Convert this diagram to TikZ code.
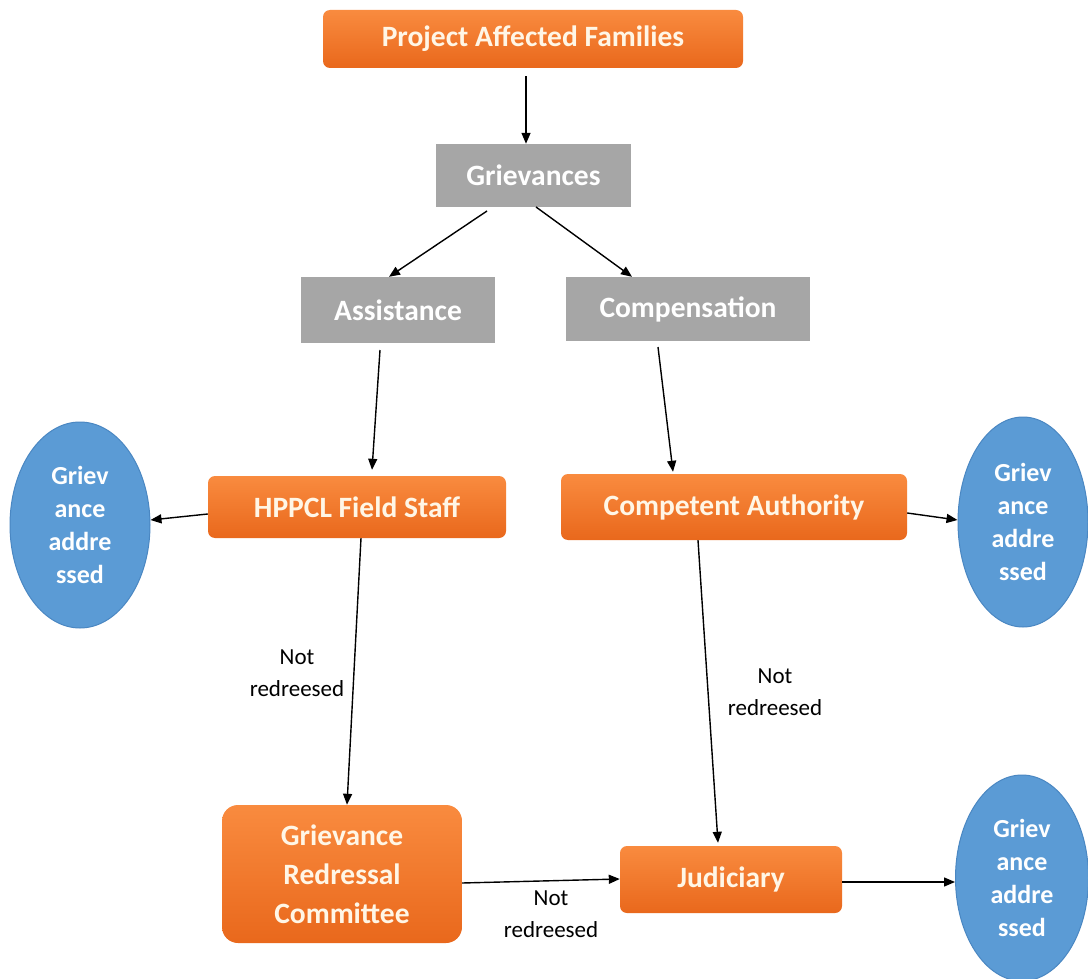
\documentclass[tikz,border=0pt]{standalone}
\usepackage{fontspec}
\setmainfont{Carlito}
\usetikzlibrary{arrows.meta,shapes.geometric}
\definecolor{orTop}{HTML}{F98B3F}
\definecolor{orBot}{HTML}{E9681C}
\definecolor{grayBox}{HTML}{A6A6A6}
\definecolor{blueEl}{HTML}{5B9BD5}
\definecolor{blueEd}{HTML}{4A87C2}
\definecolor{cream}{HTML}{FFF6E6}
\tikzset{
  orbox/.style={rectangle, rounded corners=7pt, top color=orTop, bottom color=orBot, draw=none,
    text=cream, font=\fontsize{29.5}{39}\selectfont\bfseries, inner sep=0pt, align=center},
  graybox/.style={rectangle, fill=grayBox, draw=none, text=white,
    font=\fontsize{29.5}{35}\selectfont\bfseries, inner sep=0pt, align=center},
  blueell/.style={ellipse, fill=blueEl, draw=blueEd, line width=1pt, text=white, inner sep=0pt,
    font=\fontsize{26}{33}\selectfont\bfseries, align=center},
  conn/.style={draw=black, line width=1.4pt, -{Triangle[length=11pt,width=9pt]}},
  lbl/.style={font=\fontsize{23}{32}\selectfont, align=center, text=black}
}
\begin{document}
\begin{tikzpicture}[x=1pt,y=-1pt]
\useasboundingbox (0,0) rectangle (1088,979);
\fill[white] (0,0) rectangle (1088,979);
\node[orbox, minimum width=420pt, minimum height=58pt] (paf) at (533,39) {Project Affected Families};
\node[graybox, minimum width=195pt, minimum height=63pt] (griev) at (533.5,175.5) {Grievances};
\node[graybox, minimum width=194pt, minimum height=66pt] (assist) at (398,310) {Assistance};
\node[graybox, minimum width=244pt, minimum height=64pt] (comp) at (688,309) {Compensation};
\node[orbox, minimum width=298pt, minimum height=62pt] (hppcl) at (357,507) {HPPCL Field Staff};
\node[orbox, minimum width=346pt, minimum height=66pt] (ca) at (734,507) {Competent Authority};
\node[blueell, minimum width=140pt, minimum height=206pt] (el1) at (80,525) {Griev\\ance\\addre\\ssed};
\node[blueell, minimum width=130pt, minimum height=210pt] (el2) at (1023,522) {Griev\\ance\\addre\\ssed};
\node[orbox, rounded corners=16pt, minimum width=240pt, minimum height=138pt] (grc) at (342,874) {Grievance\\Redressal\\Committee};
\node[orbox, minimum width=222pt, minimum height=67pt] (jud) at (731,879.5) {Judiciary};
\node[blueell, minimum width=133pt, minimum height=206pt] (el3) at (1022,878) {Griev\\ance\\addre\\ssed};

\draw[conn] ([yshift=-8pt]paf.south -| 526,0) -- (griev.north -| 526,0);
\draw[conn] (487,211) -- (assist.north -| 389,0);
\draw[conn] (536,207) -- (comp.north -| 632,0);
\draw[conn] (380,350) -- ([yshift=6pt]hppcl.north -| 372,0);
\draw[conn] (658,347) -- ([yshift=2pt]ca.north -| 673,0);
\draw[conn] (hppcl.west |- 0,514) -- (el1.east |- 0,520);
\draw[conn] (ca.east |- 0,513) -- (el2.west |- 0,520);
\draw[conn] (hppcl.south -| 361,0) -- (grc.north -| 347,0);
\draw[conn] (ca.south -| 698,0) -- ([yshift=3pt]jud.north -| 718,0);
\draw[conn] (grc.east |- 0,883) -- (jud.west |- 0,879);
\draw[conn] (jud.east |- 0,882) -- (el3.west |- 0,882);

\node[lbl] (l1) at (297,673) {Not\\redreesed};
\node[lbl] (l2) at (775,692) {Not\\redreesed};
\node[lbl] (l3) at (551,914) {Not\\redreesed};
\end{tikzpicture}
\end{document}
